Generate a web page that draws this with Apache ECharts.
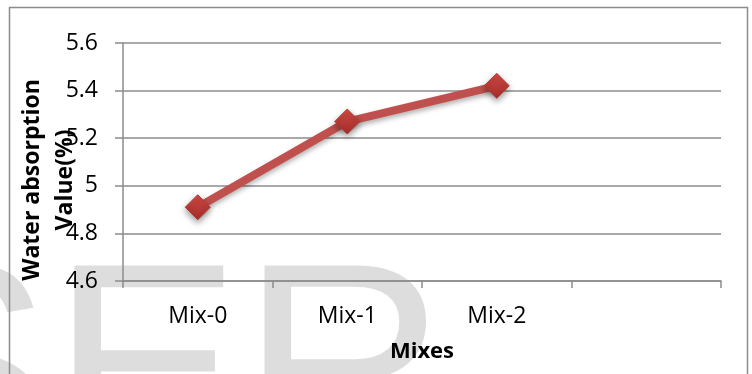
<!DOCTYPE html>
<html>
<head>
<meta charset="utf-8">
<title>Water absorption by mix</title>
<script src="https://cdn.jsdelivr.net/npm/echarts@6/dist/echarts.min.js"></script>
<style>
  html, body { margin: 0; padding: 0; background: #fff; }
  #chart { width: 752px; height: 374px; }
</style>
</head>
<body>
<div id="chart"></div>
<script>
// Mix designations (the fourth slot is an empty category band)
const categories = ['Mix-0', 'Mix-1', 'Mix-2', ''];
// Water absorption, %
const waterAbsorption = [4.91, 5.27, 5.42, null];
// Value axis range
const yMin = 4.6;
const yMax = 5.6;
const yStep = 0.2;

const font = '"Open Sans", "Liberation Sans", sans-serif';
const gray = '#8c8c8c';

const chart = echarts.init(document.getElementById('chart'), null, { renderer: 'canvas' });

chart.setOption({
  backgroundColor: '#ffffff',
  animation: false,
  graphic: [
    {
      // faint background lettering
      type: 'text',
      z: -10,
      silent: true,
      x: -139,
      y: 383,
      style: {
        text: 'SER',
        fontFamily: '"Liberation Sans", Arial, sans-serif',
        fontSize: 285,
        fill: '#dddddd',
        align: 'left',
        verticalAlign: 'middle'
      }
    },
    {
      // outer frame
      type: 'rect',
      z: 100,
      silent: true,
      shape: { x: 9.5, y: 7.5, width: 738, height: 380 },
      style: { fill: 'none', stroke: gray, lineWidth: 1.5 }
    }
  ],
  grid: {
    left: 123,
    right: 31,
    top: 43,
    bottom: 93,
    containLabel: false,
    outerBoundsMode: 'none'
  },
  xAxis: {
    type: 'category',
    data: categories,
    boundaryGap: true,
    name: 'Mixes',
    nameLocation: 'middle',
    nameGap: 60,
    nameMoveOverlap: false,
    nameTextStyle: { fontFamily: font, fontSize: 22, fontWeight: 'bold', color: '#000' },
    axisLine: { show: true, lineStyle: { color: gray, width: 1.5 } },
    axisTick: { show: true, length: 7, alignWithLabel: false, lineStyle: { color: gray, width: 1.5 } },
    axisLabel: { fontFamily: font, fontSize: 23, color: '#000', margin: 24 },
    splitLine: { show: false }
  },
  yAxis: {
    type: 'value',
    min: yMin,
    max: yMax,
    interval: yStep,
    name: 'Water absorption\nValue(%)',
    nameLocation: 'middle',
    nameRotate: 90,
    nameGap: 41,
    nameMoveOverlap: false,
    nameTextStyle: {
      fontFamily: font, fontSize: 23, fontWeight: 'bold', color: '#000',
      lineHeight: 33, padding: [0, 36, 0, 0]
    },
    axisLine: { show: true, lineStyle: { color: gray, width: 1.5 } },
    axisTick: { show: true, length: 8, lineStyle: { color: gray, width: 1.5 } },
    axisLabel: { fontFamily: font, fontSize: 23, color: '#000', margin: 25 },
    splitLine: { show: true, lineStyle: { color: gray, width: 1.5 } }
  },
  series: [
    {
      type: 'line',
      data: waterAbsorption,
      symbol: 'diamond',
      symbolSize: 25,
      lineStyle: {
        color: '#c0504d',
        width: 8,
        shadowColor: 'rgba(0,0,0,0.3)',
        shadowBlur: 5,
        shadowOffsetY: 3
      },
      itemStyle: {
        color: {
          type: 'linear', x: 0, y: 0, x2: 0, y2: 1,
          colorStops: [
            { offset: 0, color: '#d34a45' },
            { offset: 1, color: '#a32c29' }
          ]
        },
        borderColor: '#b13a36',
        borderWidth: 1,
        shadowColor: 'rgba(0,0,0,0.4)',
        shadowBlur: 6,
        shadowOffsetY: 3
      },
      z: 5
    }
  ]
});
</script>
</body>
</html>
